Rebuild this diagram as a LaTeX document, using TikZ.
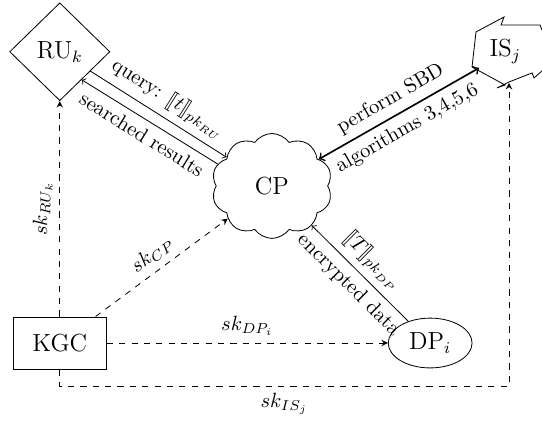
\documentclass[tikz,border=0pt]{standalone}
\usepackage{amsmath,amssymb,stmaryrd}
\usepackage{tikz}
\usetikzlibrary{arrows,shapes.geometric,shapes.symbols}

\begin{document}
\begin{tikzpicture}[party/.style={draw, font=\large},
  keyline/.style={dashed, -stealth}]
  \useasboundingbox (0,0) rectangle (9.248,7.183);
  \node[party, diamond, inner sep=1pt, minimum width=1.71cm, minimum height=1.67cm] (RU) at (1.02,6.30) {RU$_k$};
  \node[party, cloud, cloud puffs=10, cloud puff arc=110, cloud ignores aspect, minimum width=2.06cm, minimum height=1.79cm] (CP) at (4.64,4.01) {CP};
  \node[party, rectangle, minimum width=1.59cm, minimum height=0.89cm] (KGC) at (1.02,1.33) {KGC};
  \node[party, ellipse, inner sep=0pt, minimum width=1.43cm, minimum height=0.85cm] (DP) at (7.34,1.33) {DP$_i$};
  \node[font=\large] (IS) at (8.62,6.30) {IS$_j$};
  \draw (8.054,6.040) -- (8.122,6.638) -- (8.600,6.893) -- (8.549,6.757) -- (9.214,6.757)
    -- (9.385,6.330) -- (9.248,5.972) -- (9.112,5.853) -- (9.078,5.938) -- (8.685,5.784)
    -- (8.480,5.682) -- (8.617,5.733) -- cycle;
  \coordinate (ISw) at (8.173,6.023);
  \coordinate (ISs) at (8.685,5.767);
  \coordinate (KGCb) at (1.02,0.597);

  \path[->]
  (RU) edge node [above, sloped] {query: $\llbracket t\rrbracket_{pk_{RU}}$} (CP)
  (CP.158) edge node [below, sloped] {searched results} (RU.-52)
  (DP) edge node [above, sloped] {$\llbracket T\rrbracket_{pk_{DP}}$}
            node [below, sloped] {encrypted data} (CP)
  ;
  \draw[<->, thick] (CP) -- node [above, sloped] {perform SBD}
                             node [below, sloped] {algorithms 3,4,5,6} (ISw);
  \path[keyline]
  (KGC) edge node [above, sloped] {$sk_{RU_k}$} (RU)
        edge node [above, sloped] {$sk_{CP}$} (CP)
        edge node [above] {$sk_{DP_i}$} (DP)
  ;
  \draw[keyline] (KGC.south) -- (KGCb) -| node [pos=0.25, below] {$sk_{IS_j}$} (ISs);
\end{tikzpicture}
\end{document}
